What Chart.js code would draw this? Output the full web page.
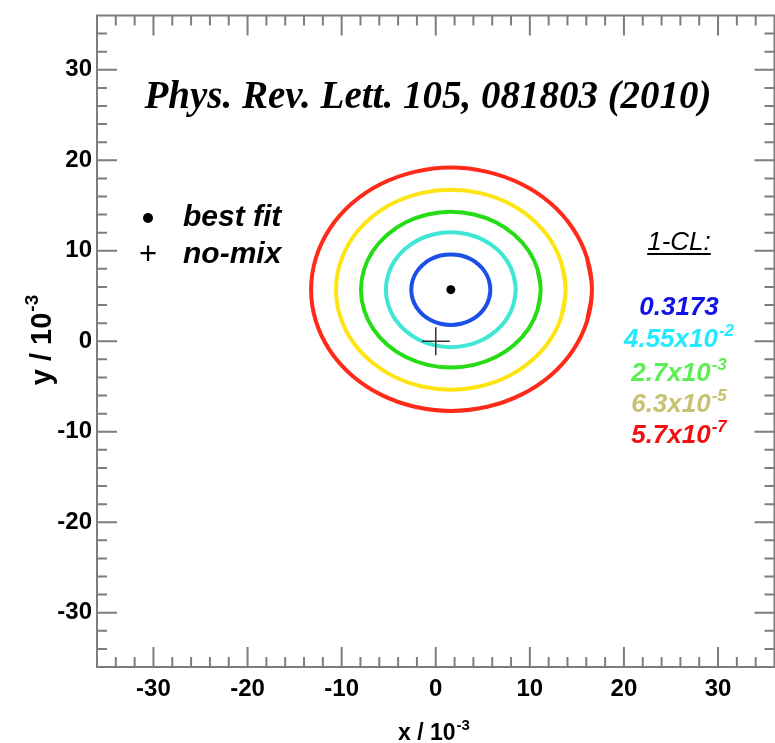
<!DOCTYPE html>
<html>
<head>
<meta charset="utf-8">
<script src="https://cdn.jsdelivr.net/npm/chart.js@4.4.1/dist/chart.umd.min.js"></script>
<style>
  html, body { margin: 0; padding: 0; background: #fff; overflow: hidden; }
  #wrap { width: 790px; height: 743px; }
</style>
</head>
<body>
<div id="wrap"><canvas id="cl" width="790" height="743"></canvas></div>
<script>
// axes
const axisMin = -36, axisMax = 36;
const xTicks = [-30, -20, -10, 0, 10, 20, 30];
const yTicks = [-30, -20, -10, 0, 10, 20, 30];

// markers
const bestFit = [{ x: 1.6, y: 5.7 }];
const noMix = [{ x: 0, y: 0 }];

// 1-CL contours (x, y in units of 1e-3)
const cl1 = [[5.8,5.7],[5.66,6.71],[5.24,7.65],[4.57,8.46],[3.7,9.08],[2.69,9.47],[1.6,9.6],[0.51,9.47],[-0.5,9.08],[-1.37,8.46],[-2.04,7.65],[-2.46,6.71],[-2.6,5.7],[-2.46,4.69],[-2.04,3.75],[-1.37,2.94],[-0.5,2.32],[0.51,1.93],[1.6,1.8],[2.69,1.93],[3.7,2.32],[4.57,2.94],[5.24,3.75],[5.66,4.69]];
const cl2 = [[8.5,5.7],[8.26,7.34],[7.58,8.88],[6.48,10.19],[5.05,11.2],[3.39,11.83],[1.6,12.05],[-0.19,11.83],[-1.85,11.2],[-3.28,10.19],[-4.38,8.88],[-5.06,7.34],[-5.3,5.7],[-5.06,4.06],[-4.38,2.52],[-3.28,1.21],[-1.85,0.2],[-0.19,-0.43],[1.6,-0.65],[3.39,-0.43],[5.05,0.2],[6.48,1.21],[7.58,2.52],[8.26,4.06]];
const cl3 = [[11.15,5.7],[10.82,7.93],[9.87,10.0],[8.35,11.78],[6.38,13.15],[4.07,14.01],[1.6,14.3],[-0.87,14.01],[-3.18,13.15],[-5.15,11.78],[-6.67,10.0],[-7.62,7.93],[-7.95,5.7],[-7.62,3.47],[-6.67,1.4],[-5.15,-0.38],[-3.18,-1.75],[-0.87,-2.61],[1.6,-2.9],[4.07,-2.61],[6.38,-1.75],[8.35,-0.38],[9.87,1.4],[10.82,3.47]];
const cl4 = [[13.8,5.7],[13.38,8.56],[12.17,11.23],[10.23,13.51],[7.7,15.27],[4.76,16.37],[1.6,16.75],[-1.56,16.37],[-4.5,15.27],[-7.03,13.51],[-8.97,11.23],[-10.18,8.56],[-10.6,5.7],[-10.18,2.84],[-8.97,0.17],[-7.03,-2.11],[-4.5,-3.87],[-1.56,-4.97],[1.6,-5.35],[4.76,-4.97],[7.7,-3.87],[10.23,-2.11],[12.17,0.17],[13.38,2.84]];
const cl5 = [[16.6,5.7],[16.08,9.2],[14.58,12.45],[12.2,15.25],[9.1,17.38],[5.48,18.72],[1.6,19.2],[-2.24,18.72],[-5.83,17.38],[-8.9,15.25],[-11.26,12.45],[-12.74,9.2],[-13.25,5.7],[-12.74,2.23],[-11.26,-1.0],[-8.9,-3.78],[-5.83,-5.9],[-2.24,-7.24],[1.6,-7.7],[5.48,-7.24],[9.1,-5.9],[12.2,-3.78],[14.58,-1.0],[16.08,2.23]];

// 1-CL labels
const clBase = ['0.3173', '4.55x10', '2.7x10', '6.3x10', '5.7x10'];
const clPower = ['', '-2', '-3', '-5', '-7'];

const lineColors = ['#1b4fe8', '#3ee6d4', '#26dc14', '#ffe414', '#ff2a1a'];
const textColors = ['#1212e6', '#22eaff', '#5cee52', '#c9c172', '#f01212'];

const SANS = '"Liberation Sans", Arial, Helvetica, sans-serif';
const SERIF = '"Liberation Serif", "Times New Roman", serif';

// closed curve: wrap one point on each side so the spline has no corner where it closes
function loop(pts) {
  const n = pts.length;
  const seq = [pts[n - 1], ...pts, pts[0], pts[1]];
  return seq.map(p => ({ x: p[0], y: p[1] }));
}

// text with a raised exponent, centred on cx
function powText(ctx, base, pow, cx, baseline, size, style) {
  const big = `${style} ${size}px ${SANS}`;
  const small = `${style} ${Math.round(size * 0.66)}px ${SANS}`;
  ctx.font = big;
  const w1 = ctx.measureText(base).width;
  ctx.font = small;
  const w2 = pow ? ctx.measureText(pow).width + 1 : 0;
  const x0 = cx - (w1 + w2) / 2;
  ctx.textAlign = 'left';
  ctx.textBaseline = 'alphabetic';
  ctx.font = big;
  ctx.fillText(base, x0, baseline);
  if (pow) {
    ctx.font = small;
    ctx.fillText(pow, x0 + w1 + 1, baseline - size * 0.44);
  }
}

const framePlugin = {
  id: 'frame',
  beforeDatasetsDraw(chart) {
    const { ctx, chartArea: a, scales: { x, y } } = chart;
    ctx.save();
    ctx.strokeStyle = '#7d7d7d';
    ctx.lineWidth = 2;
    ctx.strokeRect(a.left, a.top, a.right - a.left, a.bottom - a.top);
    ctx.beginPath();
    for (let v = axisMin + 2; v < axisMax; v += 2) {
      const len = v % 10 === 0 ? 20 : 10;
      const px = x.getPixelForValue(v), py = y.getPixelForValue(v);
      ctx.moveTo(px, a.bottom); ctx.lineTo(px, a.bottom - len);
      ctx.moveTo(px, a.top); ctx.lineTo(px, a.top + len);
      ctx.moveTo(a.left, py); ctx.lineTo(a.left + len, py);
      ctx.moveTo(a.right, py); ctx.lineTo(a.right - len, py);
    }
    ctx.stroke();
    ctx.restore();
  }
};

const notesPlugin = {
  id: 'notes',
  afterDraw(chart) {
    const { ctx } = chart;
    ctx.save();
    ctx.fillStyle = '#000';

    // reference
    ctx.font = `italic bold 39px ${SERIF}`;
    ctx.textAlign = 'center';
    ctx.textBaseline = 'alphabetic';
    ctx.fillText('Phys. Rev. Lett. 105, 081803 (2010)', 428, 108);

    // legend
    ctx.beginPath();
    ctx.arc(148, 218, 5, 0, Math.PI * 2);
    ctx.fill();
    ctx.font = `31px ${SANS}`;
    ctx.textAlign = 'center';
    ctx.textBaseline = 'middle';
    ctx.fillText('+', 148, 255);
    ctx.font = `italic bold 30px ${SANS}`;
    ctx.textAlign = 'left';
    ctx.fillText('best fit', 183, 218);
    ctx.fillText('no-mix', 183, 255);

    // 1-CL column
    ctx.font = `italic 26px ${SANS}`;
    ctx.textAlign = 'center';
    ctx.textBaseline = 'alphabetic';
    ctx.fillText('1-CL:', 679, 250);
    const w = ctx.measureText('1-CL:').width;
    ctx.fillRect(679 - w / 2, 253, w, 2);
    const baselines = [315, 347, 381, 412, 443];
    clBase.forEach((b, i) => {
      ctx.fillStyle = textColors[i];
      powText(ctx, b, clPower[i], 679, baselines[i], 26, 'italic bold');
    });

    // axis titles
    ctx.fillStyle = '#000';
    powText(ctx, 'x / 10', '-3', 434, 740, 23, 'bold');
    ctx.translate(51, 340);
    ctx.rotate(-Math.PI / 2);
    powText(ctx, 'y / 10', '-3', 0, 0, 29, 'bold');
    ctx.restore();
  }
};

const contours = [cl1, cl2, cl3, cl4, cl5].map((c, i) => ({
  data: loop(c),
  showLine: true,
  borderColor: lineColors[i],
  borderWidth: 4,
  pointRadius: 0,
  tension: 0.4,
  fill: false
}));

new Chart(document.getElementById('cl'), {
  type: 'scatter',
  data: {
    datasets: [
      { data: bestFit, pointStyle: 'circle', pointRadius: 4.5, backgroundColor: '#000', borderColor: '#000', borderWidth: 0 },
      { data: noMix, pointStyle: 'cross', pointRadius: 14, borderColor: '#333', borderWidth: 1.5 },
      ...contours
    ]
  },
  options: {
    responsive: false,
    animation: false,
    layout: { padding: { top: 12, right: 13, left: 0, bottom: 0 } },
    scales: {
      x: {
        type: 'linear', min: axisMin, max: axisMax,
        grid: { display: false, drawTicks: false }, border: { display: false },
        ticks: { color: '#000', font: { family: SANS, size: 24, weight: 'bold' }, padding: 8 },
        afterBuildTicks: s => { s.ticks = xTicks.map(v => ({ value: v })); },
        afterFit: s => { s.height = 76; s.paddingLeft = 0; s.paddingRight = 0; }
      },
      y: {
        type: 'linear', min: axisMin, max: axisMax,
        grid: { display: false, drawTicks: false }, border: { display: false },
        ticks: { color: '#000', font: { family: SANS, size: 24, weight: 'bold' }, padding: 5 },
        afterBuildTicks: s => { s.ticks = yTicks.map(v => ({ value: v })); },
        afterFit: s => { s.width = 97; s.paddingTop = 0; s.paddingBottom = 0; }
      }
    },
    plugins: { legend: { display: false }, tooltip: { enabled: false } }
  },
  plugins: [framePlugin, notesPlugin]
});
</script>
</body>
</html>
